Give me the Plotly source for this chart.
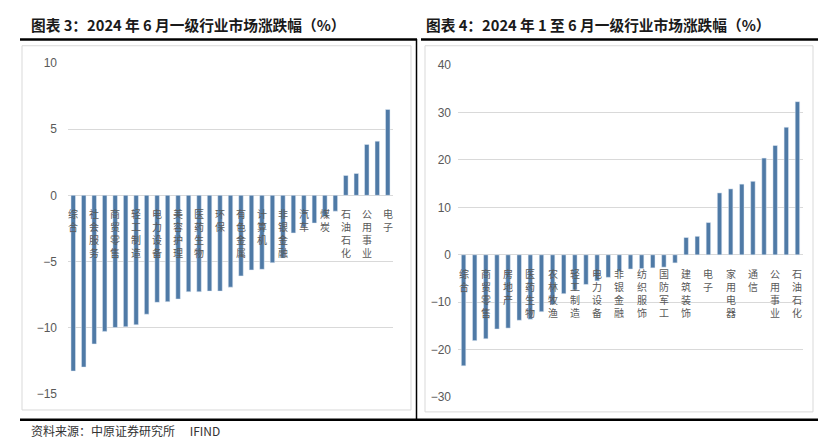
import plotly.graph_objects as go

W, H = 837, 447

# ---------------- data ----------------
left_categories = ["综合", "传媒", "社会服务", "纺织服饰", "商贸零售", "建筑材料", "轻工制造", "农林牧渔",
                   "电力设备", "机械设备", "美容护理", "房地产", "医药生物", "基础化工", "环保", "食品饮料",
                   "有色金属", "国防军工", "计算机", "建筑装饰", "非银金融", "钢铁", "汽车", "交通运输",
                   "煤炭", "家用电器", "石油石化", "银行", "公用事业", "通信", "电子"]
left_values = [-13.3, -13.0, -11.25, -10.3, -10.0, -9.95, -9.8, -9.0, -8.1, -8.05, -7.85, -7.3, -7.3,
               -7.25, -7.25, -6.95, -6.1, -5.65, -5.6, -5.1, -4.75, -2.85, -2.4, -2.1, -1.6, -1.2,
               1.5, 1.65, 3.85, 4.1, 6.5]
left_ticks = [-15, -10, -5, 0, 5, 10]

right_categories = ["综合", "计算机", "商贸零售", "传媒", "房地产", "社会服务", "医药生物", "美容护理",
                    "农林牧渔", "环保", "轻工制造", "建筑材料", "电力设备", "机械设备", "非银金融", "食品饮料",
                    "纺织服饰", "基础化工", "国防军工", "汽车", "建筑装饰", "交通运输", "电子", "钢铁",
                    "家用电器", "有色金属", "通信", "煤炭", "公用事业", "银行", "石油石化"]
right_values = [-23.4, -18.1, -17.7, -15.65, -15.45, -13.8, -13.6, -12.0, -10.5, -8.2, -7.4, -6.25,
                -5.5, -4.75, -3.5, -3.0, -2.9, -2.75, -2.6, -1.7, 3.65, 3.9, 6.8, 13.05, 13.9, 14.9,
                15.5, 20.4, 23.05, 26.9, 32.3]
right_ticks = [-30, -20, -10, 0, 10, 20, 30, 40]

title_left = "图表 3：2024 年 6 月一级行业市场涨跌幅（%）"
title_right = "图表 4：2024 年 1 至 6 月一级行业市场涨跌幅（%）"
source_text = "资料来源：中原证券研究所　 IFIND"

BAR = "#4F7AA6"
GRID = "#D9D9D9"
TXT = "#595959"
CJK = "Noto Sans CJK SC"


def px(x):
    return x / W


def py(y):
    return 1 - y / H


fig = go.Figure()
fig.add_trace(go.Bar(x=left_categories, y=left_values, marker_color=BAR, width=0.43,
                     xaxis="x", yaxis="y", showlegend=False, hoverinfo="x+y"))
fig.add_trace(go.Bar(x=right_categories, y=right_values, marker_color=BAR, width=0.4,
                     xaxis="x2", yaxis="y2", showlegend=False, hoverinfo="x+y"))

annotations = []
# vertical stacked category labels (every other category)
for cats, xr, yr in [(left_categories, "x", "y"), (right_categories, "x2", "y2")]:
    for i in range(0, len(cats), 2):
        name = cats[i]
        annotations.append(dict(x=name, y=0, xref=xr, yref=yr, text="<br>".join(name),
                                showarrow=False, xanchor="center", yanchor="top", yshift=-9,
                                align="center",
                                font=dict(family=CJK, size=10, color=TXT)))

annotations += [
    dict(x=px(29), y=py(18), xref="paper", yref="paper", text="<b>" + title_left + "</b>",
         showarrow=False, xanchor="left", yanchor="middle",
         font=dict(family=CJK, size=14.7, color="#1a1a1a")),
    dict(x=px(424), y=py(18), xref="paper", yref="paper", text="<b>" + title_right + "</b>",
         showarrow=False, xanchor="left", yanchor="middle",
         font=dict(family=CJK, size=14.7, color="#1a1a1a")),
    dict(x=px(29), y=py(437), xref="paper", yref="paper", text=source_text,
         showarrow=False, xanchor="left", yanchor="middle",
         font=dict(family="Noto Sans CJK SC", size=12, color="#333333")),
]

shapes = [
    # panel frames
    dict(type="rect", xref="paper", yref="paper", x0=px(22), x1=px(411), y0=py(416), y1=py(40),
         line=dict(color=GRID, width=1)),
    dict(type="rect", xref="paper", yref="paper", x0=px(425), x1=px(813), y0=py(418), y1=py(40),
         line=dict(color=GRID, width=1)),
    # black rules
    dict(type="line", xref="paper", yref="paper", x0=px(20), x1=px(417), y0=py(33.5), y1=py(33.5),
         line=dict(color="black", width=2.5)),
    dict(type="line", xref="paper", yref="paper", x0=px(421), x1=px(818), y0=py(33.5), y1=py(33.5),
         line=dict(color="black", width=2.5)),
    dict(type="line", xref="paper", yref="paper", x0=px(416.5), x1=px(416.5), y0=py(33), y1=py(426),
         line=dict(color="black", width=1.5)),
    dict(type="line", xref="paper", yref="paper", x0=px(20), x1=px(818), y0=py(426), y1=py(426),
         line=dict(color="black", width=2.5)),
]

yaxis_common = dict(showgrid=True, gridcolor=GRID, gridwidth=1, zeroline=True, zerolinecolor=GRID,
                    zerolinewidth=1, showline=False, ticks="",
                    tickfont=dict(family="Liberation Sans", size=12, color=TXT))
xaxis_common = dict(type="category", showticklabels=False, showgrid=False, zeroline=False,
                    showline=False, ticks="", range=[-0.5, 30.5])

fig.update_layout(
    width=W, height=H,
    margin=dict(l=0, r=0, t=0, b=0),
    paper_bgcolor="white", plot_bgcolor="white",
    xaxis=dict(domain=[px(68), px(393)], anchor="y", **xaxis_common),
    yaxis=dict(domain=[py(399), py(58)], anchor="x", range=[-15, 10], tickvals=left_ticks,
               ticklabelstandoff=10, **yaxis_common),
    xaxis2=dict(domain=[px(458), px(803)], anchor="y2", **xaxis_common),
    yaxis2=dict(domain=[py(402.7), py(60)], anchor="x2", range=[-30, 40], tickvals=right_ticks,
                ticklabelstandoff=6, **yaxis_common),
    annotations=annotations,
    shapes=shapes,
)

page_fix = (
    "var gd=document.getElementById('{plot_id}');"
    "gd.style.position='fixed';gd.style.left='0px';gd.style.top='0px';"
    "document.documentElement.style.margin='0';document.documentElement.style.overflow='hidden';"
    "document.body.style.margin='0';document.body.style.padding='0';"
    "document.body.style.overflow='hidden';"
)

fig.write_html("out.html", config={"displayModeBar": False}, post_script=page_fix)
